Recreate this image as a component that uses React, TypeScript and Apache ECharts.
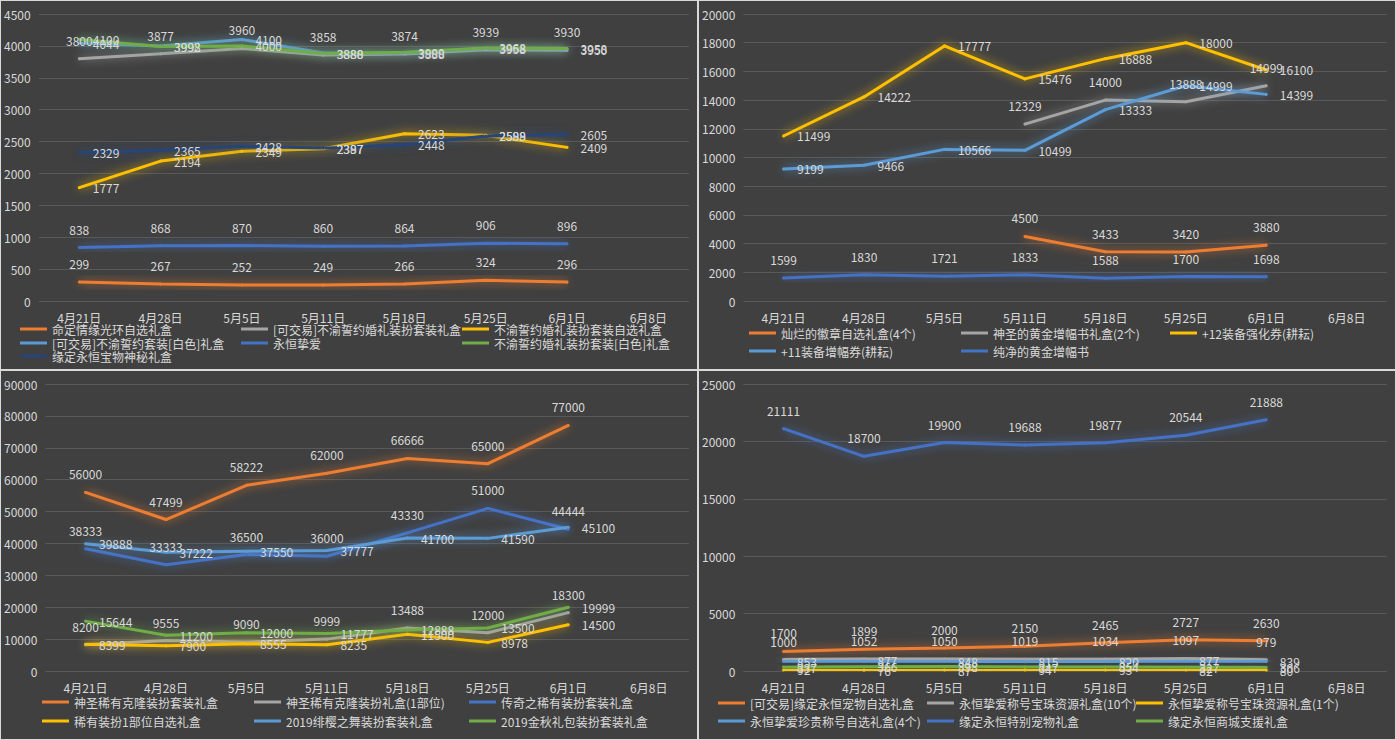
import React, { useEffect, useRef } from "react";
import * as echarts from "echarts";

// ---------- data ----------
const dates = ["4月21日", "4月28日", "5月5日", "5月11日", "5月18日", "5月25日", "6月1日", "6月8日"];

// Panel 1
const p1Names = [
  "命定情缘光环自选礼盒",
  "[可交易]不渝誓约婚礼装扮套装礼盒",
  "不渝誓约婚礼装扮套装自选礼盒",
  "[可交易]不渝誓约套装[白色]礼盒",
  "永恒挚爱",
  "不渝誓约婚礼装扮套装[白色]礼盒",
  "缘定永恒宝物神秘礼盒",
];
const p1Halo = [299, 267, 252, 249, 266, 324, 296, null];
const p1TradeWedding = [3800, 3877, 3960, 3858, 3874, 3939, 3930, null];
const p1WeddingPick = [1777, 2194, 2349, 2387, 2623, 2599, 2409, null];
const p1TradeWhite = [4044, 3998, 4100, 3888, 3888, 3958, 3950, null];
const p1EternalLove = [838, 868, 870, 860, 864, 906, 896, null];
const p1WeddingWhite = [4100, 3992, 4000, 3880, 3900, 3968, 3958, null];
const p1Treasure = [2329, 2365, 2428, 2397, 2448, 2588, 2605, null];

// Panel 2
const p2Names = [
  "灿烂的徽章自选礼盒(4个)",
  "神圣的黄金增幅书礼盒(2个)",
  "+12装备强化券(耕耘)",
  "+11装备增幅券(耕耘)",
  "纯净的黄金增幅书",
];
const p2Badge = [null, null, null, 4500, 3433, 3420, 3880, null];
const p2GoldBook2 = [null, null, null, 12329, 14000, 13888, 14999, null];
const p2Plus12 = [11499, 14222, 17777, 15476, 16888, 18000, 16100, null];
const p2Plus11 = [9199, 9466, 10566, 10499, 13333, 14999, 14399, null];
const p2PureBook = [1599, 1830, 1721, 1833, 1588, 1700, 1698, null];

// Panel 3
const p3Names = [
  "神圣稀有克隆装扮套装礼盒",
  "神圣稀有克隆装扮礼盒(1部位)",
  "传奇之稀有装扮套装礼盒",
  "稀有装扮1部位自选礼盒",
  "2019绯樱之舞装扮套装礼盒",
  "2019金秋礼包装扮套装礼盒",
];
const p3CloneSet = [56000, 47499, 58222, 62000, 66666, 65000, 77000, null];
const p3ClonePart = [8200, 9555, 9090, 9999, 13488, 12000, 18300, null];
const p3Legend = [38333, 33333, 36500, 36000, 43330, 51000, 44444, null];
const p3RarePart = [8399, 7900, 8555, 8235, 11500, 8978, 14500, null];
const p3Sakura = [39888, 37222, 37550, 37777, 41700, 41590, 45100, null];
const p3Autumn = [15644, 11200, 12000, 11777, 12888, 13500, 19999, null];

// Panel 4
const p4Names = [
  "[可交易]缘定永恒宠物自选礼盒",
  "永恒挚爱称号宝珠资源礼盒(10个)",
  "永恒挚爱称号宝珠资源礼盒(1个)",
  "永恒挚爱珍贵称号自选礼盒(4个)",
  "缘定永恒特别宠物礼盒",
  "缘定永恒商城支援礼盒",
];
const p4PetPick = [1700, 1899, 2000, 2150, 2465, 2727, 2630, null];
const p4Orb10 = [1000, 1052, 1050, 1019, 1034, 1097, 979, null];
const p4Orb1 = [92, 76, 87, 94, 93, 82, 80, null];
const p4TitlePick = [853, 877, 848, 815, 820, 877, 839, null];
const p4SpecialPet = [21111, 18700, 19900, 19688, 19877, 20544, 21888, null];
const p4Support = [337, 366, 398, 347, 354, 327, 306, null];

// ---------- style ----------
const C = {
  orange: "#ED7D31",
  gray: "#A5A5A5",
  yellow: "#FFC000",
  lblue: "#5B9BD5",
  blue: "#4472C4",
  green: "#70AD47",
  dblue: "#264478",
};
const FONT = "'Noto Sans CJK SC', 'Noto Sans', sans-serif";
const TXT = "#d9d9d9";

type SDef = { name: string; data: (number | null)[]; color: string; pos: "top" | "right" };

type PanelDef = {
  left: number;
  top: number;
  gridLeft: number;
  max: number;
  interval: number;
  series: SDef[];
  legendCols: number[];
  legendRows: number[];
};

const panels: PanelDef[] = [
  {
    left: 0,
    top: 0,
    gridLeft: 37,
    max: 4500,
    interval: 500,
    series: [
      { name: p1Names[0], data: p1Halo, color: C.orange, pos: "top" },
      { name: p1Names[1], data: p1TradeWedding, color: C.gray, pos: "top" },
      { name: p1Names[2], data: p1WeddingPick, color: C.yellow, pos: "right" },
      { name: p1Names[3], data: p1TradeWhite, color: C.lblue, pos: "right" },
      { name: p1Names[4], data: p1EternalLove, color: C.blue, pos: "top" },
      { name: p1Names[5], data: p1WeddingWhite, color: C.green, pos: "right" },
      { name: p1Names[6], data: p1Treasure, color: C.dblue, pos: "right" },
    ],
    legendCols: [19, 240, 461],
    legendRows: [329, 343, 356],
  },
  {
    left: 698,
    top: 0,
    gridLeft: 43,
    max: 20000,
    interval: 2000,
    series: [
      { name: p2Names[0], data: p2Badge, color: C.orange, pos: "top" },
      { name: p2Names[1], data: p2GoldBook2, color: C.gray, pos: "top" },
      { name: p2Names[2], data: p2Plus12, color: C.yellow, pos: "right" },
      { name: p2Names[3], data: p2Plus11, color: C.lblue, pos: "right" },
      { name: p2Names[4], data: p2PureBook, color: C.blue, pos: "top" },
    ],
    legendCols: [50, 262, 471],
    legendRows: [333, 351],
  },
  {
    left: 0,
    top: 370,
    gridLeft: 43,
    max: 90000,
    interval: 10000,
    series: [
      { name: p3Names[0], data: p3CloneSet, color: C.orange, pos: "top" },
      { name: p3Names[1], data: p3ClonePart, color: C.gray, pos: "top" },
      { name: p3Names[2], data: p3Legend, color: C.blue, pos: "top" },
      { name: p3Names[3], data: p3RarePart, color: C.yellow, pos: "right" },
      { name: p3Names[4], data: p3Sakura, color: C.lblue, pos: "right" },
      { name: p3Names[5], data: p3Autumn, color: C.green, pos: "right" },
    ],
    legendCols: [41, 253, 468],
    legendRows: [332, 351],
  },
  {
    left: 698,
    top: 370,
    gridLeft: 43,
    max: 25000,
    interval: 5000,
    series: [
      { name: p4Names[0], data: p4PetPick, color: C.orange, pos: "top" },
      { name: p4Names[1], data: p4Orb10, color: C.gray, pos: "top" },
      { name: p4Names[2], data: p4Orb1, color: C.yellow, pos: "right" },
      { name: p4Names[3], data: p4TitlePick, color: C.lblue, pos: "right" },
      { name: p4Names[4], data: p4SpecialPet, color: C.blue, pos: "top" },
      { name: p4Names[5], data: p4Support, color: C.green, pos: "right" },
    ],
    legendCols: [19, 228, 437],
    legendRows: [333, 351],
  },
];

function hexA(hex: string, a: number) {
  const n = parseInt(hex.slice(1), 16);
  return `rgba(${(n >> 16) & 255},${(n >> 8) & 255},${n & 255},${a})`;
}

function buildOption(p: PanelDef) {
  const legends = p.series.map((s, i) => ({
    data: [s.name],
    left: p.legendCols[i % 3],
    top: p.legendRows[Math.floor(i / 3)] - 7,
    padding: 0,
    icon: "rect",
    itemWidth: 27,
    itemHeight: 3,
    itemGap: 0,
    selectedMode: false,
    textStyle: { color: TXT, fontSize: 12, fontFamily: FONT },
  }));
  return {
    animation: false,
    backgroundColor: "#404040",
    textStyle: { fontFamily: FONT },
    grid: { left: p.gridLeft, right: 8, top: 13, bottom: 68 },
    legend: legends,
    xAxis: {
      type: "category",
      data: dates,
      boundaryGap: true,
      axisLine: { show: false },
      axisTick: { show: false },
      axisLabel: { color: TXT, fontSize: 12, margin: 10, fontFamily: FONT, interval: 0 },
    },
    yAxis: {
      type: "value",
      min: 0,
      max: p.max,
      interval: p.interval,
      axisLine: { show: false },
      axisTick: { show: false },
      axisLabel: {
        color: TXT,
        fontSize: 12,
        margin: 8,
        fontFamily: FONT,
        formatter: (v: number) => String(v),
      },
      splitLine: { lineStyle: { color: "#595959", width: 1 } },
    },
    series: p.series.map((s) => ({
      type: "line",
      name: s.name,
      data: s.data,
      symbol: "circle",
      symbolSize: 3,
      showSymbol: true,
      connectNulls: false,
      itemStyle: { color: s.color },
      lineStyle: {
        color: s.color,
        width: 3,
        shadowColor: hexA(s.color, 0.8),
        shadowBlur: 10,
      },
      label: {
        show: true,
        position: s.pos,
        distance: s.pos === "top" ? 11 : 12,
        color: TXT,
        fontSize: 12,
        fontFamily: FONT,
      },
    })),
  };
}

function Panel({ def }: { def: PanelDef }) {
  const ref = useRef<HTMLDivElement>(null);
  useEffect(() => {
    if (!ref.current) return;
    const chart = echarts.init(ref.current, undefined, { renderer: "svg" });
    chart.setOption(buildOption(def));
    return () => chart.dispose();
  }, [def]);
  return (
    <div
      style={{
        position: "absolute",
        left: def.left,
        top: def.top,
        width: 698,
        height: 370,
        boxSizing: "border-box",
        border: "1px solid #d9d9d9",
        background: "#404040",
      }}
    >
      <div ref={ref} style={{ width: 696, height: 368 }} />
    </div>
  );
}

export default function App() {
  useEffect(() => {
    document.body.style.margin = "0";
  }, []);
  return (
    <div
      style={{
        position: "fixed",
        left: 0,
        top: 0,
        width: 1396,
        height: 740,
        background: "#d9d9d9",
        overflow: "hidden",
      }}
    >
      {panels.map((p, i) => (
        <Panel key={i} def={p} />
      ))}
    </div>
  );
}
